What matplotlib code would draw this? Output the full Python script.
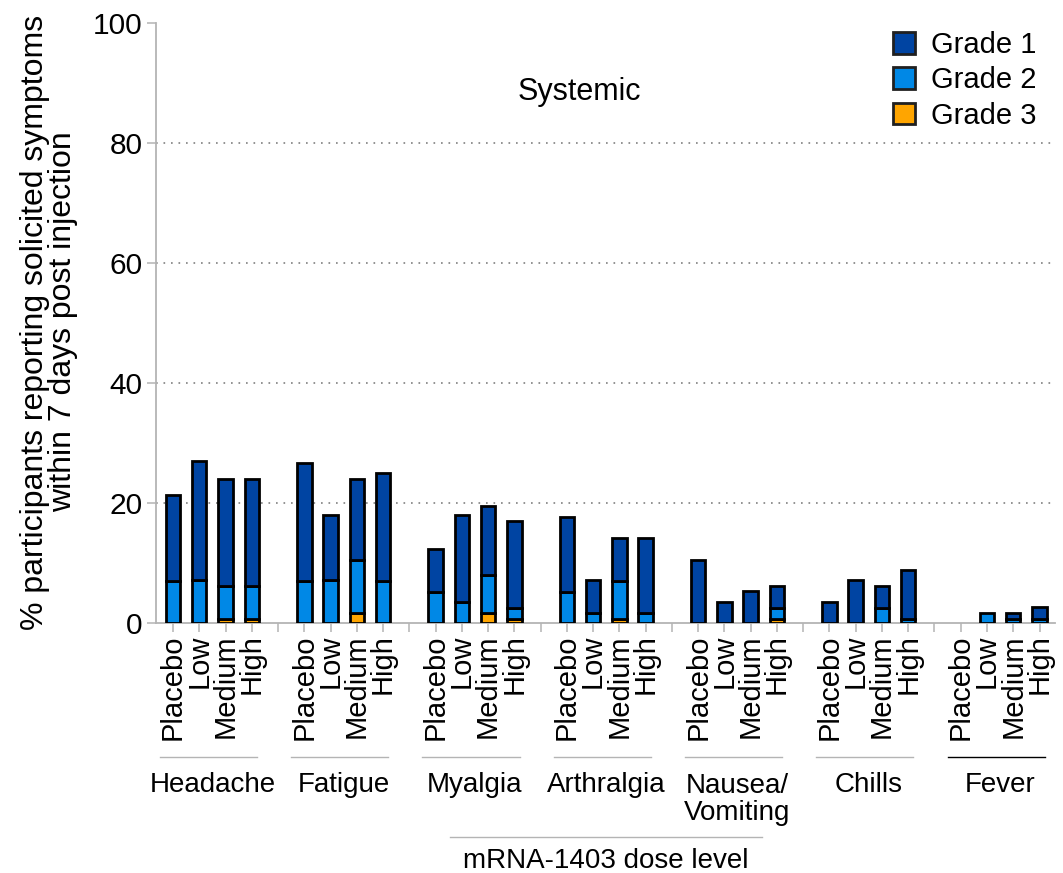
import numpy as np
import matplotlib
matplotlib.use("Agg")
import matplotlib.pyplot as plt
from matplotlib.patches import Patch

plt.rcParams['font.family'] = ['Liberation Sans', 'DejaVu Sans']

symptoms = ['Headache', 'Fatigue', 'Myalgia', 'Arthralgia', 'Nausea/\nVomiting', 'Chills', 'Fever']
doses = ['Placebo', 'Low', 'Medium', 'High']

# % participants per grade, one row per symptom (Placebo, Low, Medium, High)
grade1 = [[14.4, 19.9, 17.8, 17.8],
          [19.7, 10.9, 13.4, 18.0],
          [7.1, 14.5, 11.6, 14.4],
          [12.5, 5.5, 7.1, 12.5],
          [10.5, 3.4, 5.3, 3.7],
          [3.4, 7.1, 3.7, 8.1],
          [0.0, 0.0, 1.0, 1.9]]
grade2 = [[6.9, 7.1, 5.5, 5.5],
          [6.9, 7.1, 8.9, 6.9],
          [5.2, 3.4, 6.3, 1.8],
          [5.2, 1.6, 6.3, 1.6],
          [0.0, 0.0, 0.0, 1.8],
          [0.0, 0.0, 2.5, 0.7],
          [0.0, 1.7, 0.7, 0.7]]
grade3 = [[0.0, 0.0, 0.7, 0.7],
          [0.0, 0.0, 1.6, 0.0],
          [0.0, 0.0, 1.6, 0.7],
          [0.0, 0.0, 0.7, 0.0],
          [0.0, 0.0, 0.0, 0.7],
          [0.0, 0.0, 0.0, 0.0],
          [0.0, 0.0, 0.0, 0.0]]

c1, c2, c3 = '#0044a2', '#0088e6', '#ffa500'
gray = '#b4b4b4'

fig = plt.figure(figsize=(10.63, 8.73), dpi=100)
ax = fig.add_axes([156 / 1063, (873 - 622.7) / 873, 899 / 1063, 600 / 873])

g1 = np.array(grade1).ravel()
g2 = np.array(grade2).ravel()
g3 = np.array(grade3).ravel()
x = np.array([5 * g + d for g in range(len(symptoms)) for d in range(len(doses))])

w = 0.55
lw = 2.0
# stack grade 3 at the bottom, then 2, then 1; skip edges on empty segments
ax.bar(x, g3, w, color=c3, edgecolor='black', linewidth=np.where(g3 > 0, lw, 0), zorder=3)
ax.bar(x, g2, w, bottom=g3, color=c2, edgecolor='black', linewidth=np.where(g2 > 0, lw, 0), zorder=3)
ax.bar(x, g1, w, bottom=g2 + g3, color=c1, edgecolor='black', linewidth=np.where(g1 > 0, lw, 0), zorder=3)

ax.set_xlim(-0.647, 33.59)
ax.set_ylim(0, 100)

for yv in [20, 40, 60, 80]:
    ax.axhline(yv, color='#808080', linestyle=(0, (1, 3.5)), linewidth=1.2, zorder=1)

for s in ['top', 'right']:
    ax.spines[s].set_visible(False)
for s in ['left', 'bottom']:
    ax.spines[s].set_color(gray)
    ax.spines[s].set_linewidth(1.3)

ax.set_yticks([0, 20, 40, 60, 80, 100])
ax.tick_params(axis='y', length=6.5, width=1.1, color=gray, labelsize=21.5, pad=3)
ax.set_xticks(x)
ax.set_xticklabels(doses * len(symptoms), rotation=90, fontsize=21, va='top', ha='center')
ax.set_xticks([5 * g - 1 for g in range(1, len(symptoms))], minor=True)
ax.tick_params(axis='x', which='both', length=6.5, width=1.1, color=gray, pad=2)

fig.text(49 / 1063, 1 - 322 / 873, '% participants reporting solicited symptoms\nwithin 7 days post injection',
         rotation=90, ha='center', va='center', fontsize=23, linespacing=0.95)

ax.text(0.471, 88.4, 'Systemic', transform=ax.get_yaxis_transform(), ha='center', va='center', fontsize=22)

# symptom group labels with short rules under the dose labels
tr = ax.get_xaxis_transform()
for g, name in enumerate(symptoms):
    x0 = 5 * g
    rule_col = 'black' if g == len(symptoms) - 1 else gray
    ax.plot([x0 - 0.5, x0 + 3.2], [-0.2238, -0.2238], color=rule_col, linewidth=1.0,
            transform=tr, clip_on=False)
    yl = -0.294 if '\n' in name else -0.2705
    ax.text(x0 + 1.5, yl, name, transform=tr, ha='center', va='center', fontsize=20, linespacing=1.05)

mid = (x.min() + x.max()) / 2
ax.plot([mid - 5.94, mid + 5.94], [-0.357, -0.357], color=gray, linewidth=1.0, transform=tr, clip_on=False)
ax.text(mid, -0.397, 'mRNA-1403 dose level', transform=tr, ha='center', va='center', fontsize=20)

handles = [Patch(facecolor=c, edgecolor='#202020', linewidth=2.0, label=l)
           for c, l in [(c1, 'Grade 1'), (c2, 'Grade 2'), (c3, 'Grade 3')]]
fig.legend(handles=handles, loc='upper left', bbox_to_anchor=(893 / 1063, (873 - 31) / 873),
           frameon=False, fontsize=21, handlelength=0.76, handleheight=0.76,
           handletextpad=0.55, labelspacing=0.25, borderpad=0, borderaxespad=0)

fig.savefig('out.png', dpi=100)
